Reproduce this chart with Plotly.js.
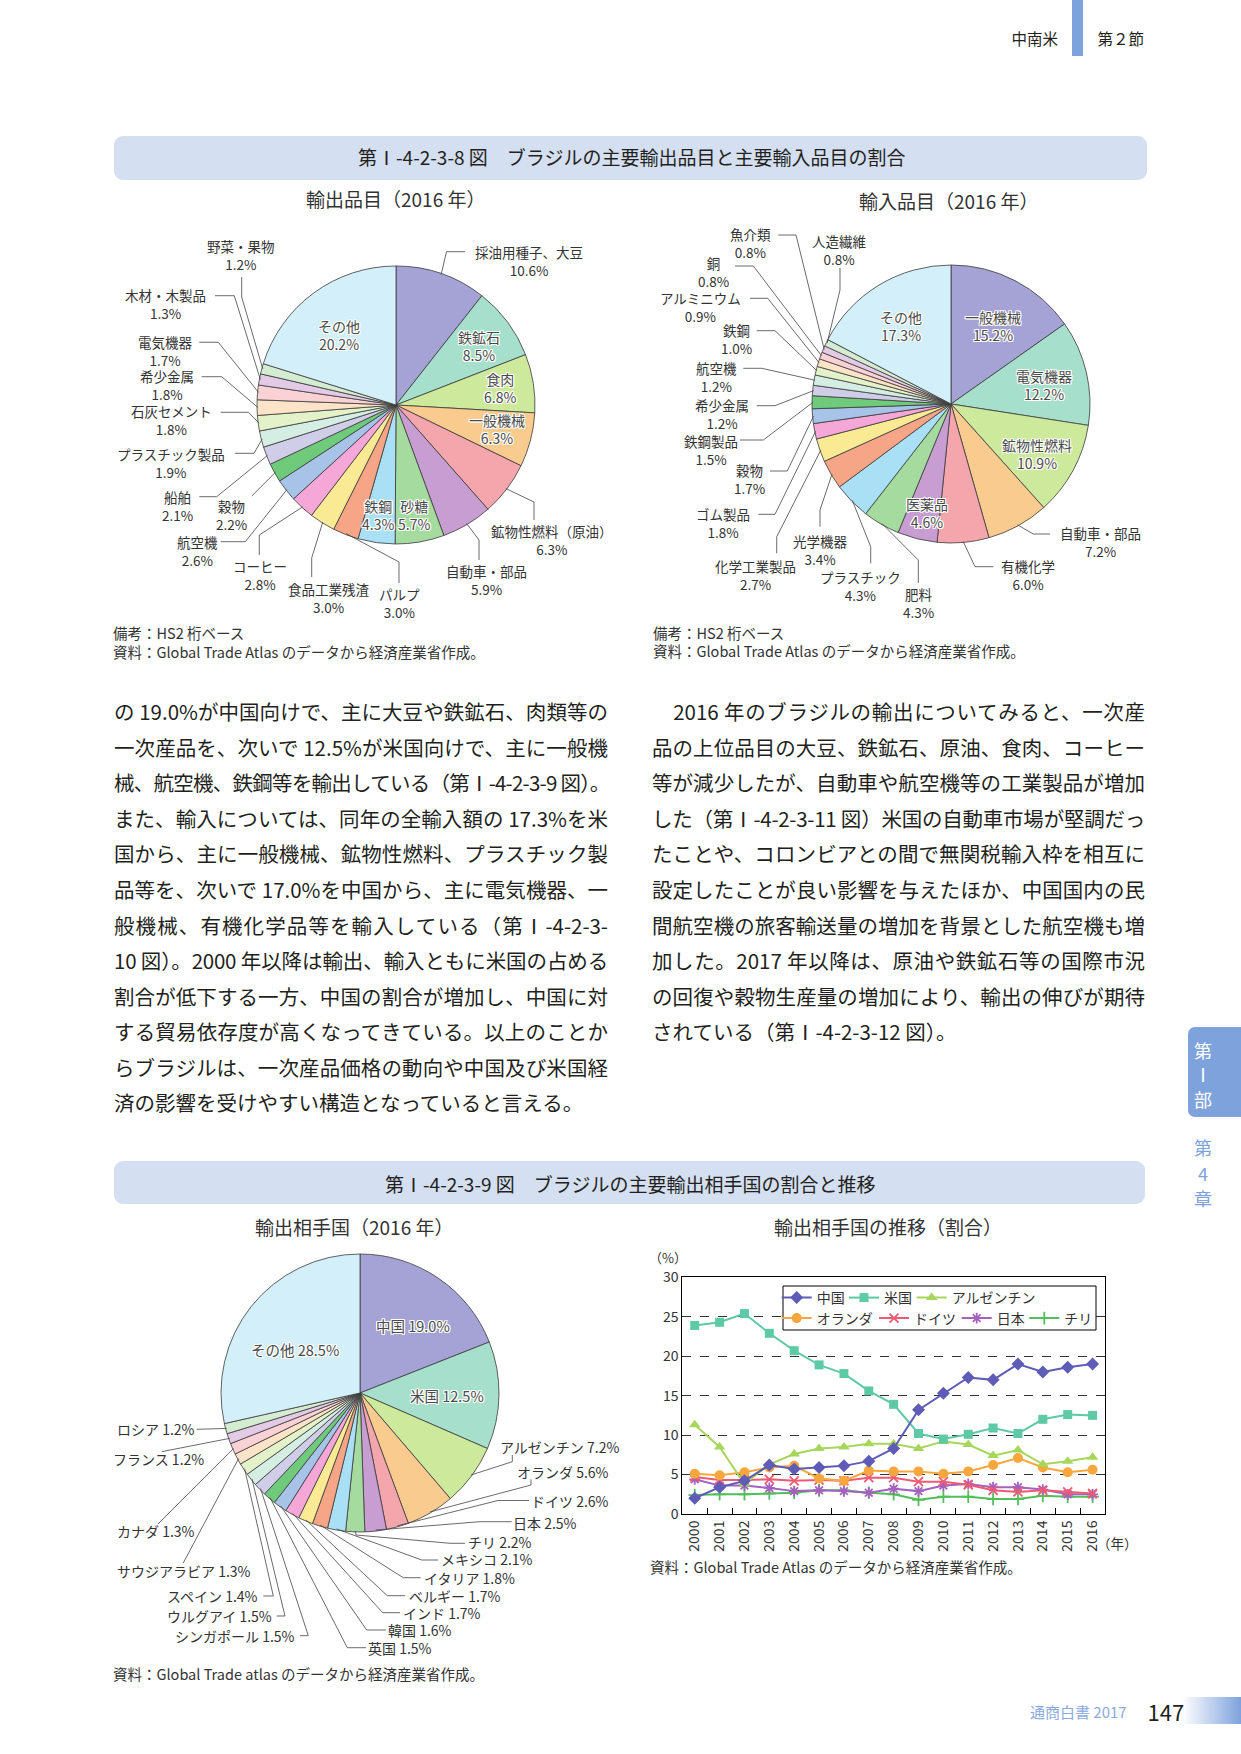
<!DOCTYPE html>
<html>
<head>
<meta charset="utf-8">
<script src="https://cdn.plot.ly/plotly-3.0.1.min.js"></script>
<style>
  body{margin:0;background:#fff;}
  #page{position:relative;width:1241px;height:1754px;overflow:hidden;background:#fff;}
  .deco{position:absolute;}
  #chart{position:absolute;left:0;top:0;width:1241px;height:1754px;z-index:2;}
  #textlayer{position:absolute;left:0;top:0;width:1241px;height:1754px;z-index:3;pointer-events:none;}
  .ln{position:absolute;font-family:"Noto Sans CJK JP","Noto Sans",sans-serif;font-size:20.5px;line-height:35.5px;height:35.5px;color:#231f20;text-align:justify;text-align-last:justify;white-space:nowrap;}
  .ln.last{text-align:left;text-align-last:left;}
  .tx{position:absolute;font-family:"Noto Sans CJK JP","Noto Sans",sans-serif;white-space:nowrap;}
</style>
</head>
<body>
<div id="page">
  <!-- decorative page furniture -->
  <div class="deco" style="left:114px;top:136px;width:1033px;height:44px;background:#d5dff2;border-radius:9px;z-index:1"></div>
  <div class="deco" style="left:114px;top:1161px;width:1031px;height:43px;background:#d5dff2;border-radius:9px;z-index:1"></div>
  <div class="deco" style="left:1072px;top:0;width:11px;height:56px;background:#7ea2dc;z-index:1"></div>
  <div class="deco" style="left:1188px;top:1027px;width:53px;height:90px;background:#7ea2dc;border-radius:7px 0 0 7px;z-index:1"></div>
  <div class="deco" style="left:1182px;top:1697px;width:59px;height:27px;background:linear-gradient(to right,#ffffff,#7ea2dc);z-index:1"></div>
  <div id="chart"></div>
  <div id="textlayer"></div>
</div>
<script>
// ================= DATA =================
const exportItems = ['採油用種子、大豆','鉄鉱石','食肉','一般機械','鉱物性燃料（原油）','自動車・部品','砂糖','鉄鋼','パルプ','食品工業残渣','コーヒー','航空機','穀物','船舶','プラスチック製品','石灰セメント','希少金属','電気機器','木材・木製品','野菜・果物','その他'];
const exportShares = [10.6,8.5,6.8,6.3,6.3,5.9,5.7,4.3,3.0,3.0,2.8,2.6,2.2,2.1,1.9,1.8,1.8,1.7,1.3,1.2,20.2];

const importItems = ['一般機械','電気機器','鉱物性燃料','自動車・部品','有機化学','医薬品','肥料','プラスチック','光学機器','化学工業製品','ゴム製品','穀物','鉄鋼製品','希少金属','航空機','鉄鋼','アルミニウム','銅','魚介類','人造繊維','その他'];
const importShares = [15.2,12.2,10.9,7.2,6.0,4.6,4.3,4.3,3.4,2.7,1.8,1.7,1.5,1.2,1.2,1.0,0.9,0.8,0.8,0.8,17.3];

const partnerNames = ['中国','米国','アルゼンチン','オランダ','ドイツ','日本','チリ','メキシコ','イタリア','ベルギー','インド','韓国','英国','シンガポール','ウルグアイ','スペイン','サウジアラビア','カナダ','フランス','ロシア','その他'];
const partnerShares = [19.0,12.5,7.2,5.6,2.6,2.5,2.2,2.1,1.8,1.7,1.7,1.6,1.5,1.5,1.5,1.4,1.3,1.3,1.2,1.2,28.5];

const years = ['2000','2001','2002','2003','2004','2005','2006','2007','2008','2009','2010','2011','2012','2013','2014','2015','2016'];
const china       = [2.0,3.4,4.2,6.2,5.7,5.9,6.1,6.7,8.3,13.2,15.3,17.3,17.0,19.0,18.0,18.6,19.0];
const usa         = [23.9,24.3,25.4,22.9,20.7,18.9,17.8,15.6,13.9,10.2,9.5,10.1,10.9,10.2,12.0,12.6,12.5];
const argentina   = [11.3,8.5,3.8,6.3,7.6,8.3,8.5,8.9,8.9,8.3,9.2,8.8,7.4,8.1,6.3,6.7,7.2];
const netherlands = [5.1,4.9,5.3,5.9,6.1,4.5,4.2,5.5,5.4,5.4,5.1,5.4,6.2,7.1,5.9,5.3,5.6];
const germany     = [4.7,4.3,4.3,4.4,4.2,4.3,4.2,4.6,4.6,4.1,4.1,3.7,3.0,2.8,3.0,2.8,2.6];
const japan       = [4.4,3.6,3.6,3.3,2.9,3.0,2.9,2.7,3.2,2.9,3.6,3.8,3.4,3.4,3.1,2.5,2.5];
const chile       = [2.4,2.5,2.5,2.6,2.7,3.0,3.0,2.7,2.5,1.8,2.2,2.2,1.9,1.9,2.3,2.2,2.2];

const leftParagraph = [
  'の 19.0%が中国向けで、主に大豆や鉄鉱石、肉類等の',
  '一次産品を、次いで 12.5%が米国向けで、主に一般機',
  '械、航空機、鉄鋼等を輸出している（第Ⅰ-4-2-3-9 図）。',
  'また、輸入については、同年の全輸入額の 17.3%を米',
  '国から、主に一般機械、鉱物性燃料、プラスチック製',
  '品等を、次いで 17.0%を中国から、主に電気機器、一',
  '般機械、有機化学品等を輸入している（第Ⅰ-4-2-3-',
  '10 図）。2000 年以降は輸出、輸入ともに米国の占める',
  '割合が低下する一方、中国の割合が増加し、中国に対',
  'する貿易依存度が高くなってきている。以上のことか',
  'らブラジルは、一次産品価格の動向や中国及び米国経',
  '済の影響を受けやすい構造となっていると言える。'
];
const rightParagraph = [
  '　2016 年のブラジルの輸出についてみると、一次産',
  '品の上位品目の大豆、鉄鉱石、原油、食肉、コーヒー',
  '等が減少したが、自動車や航空機等の工業製品が増加',
  'した（第Ⅰ-4-2-3-11 図）米国の自動車市場が堅調だっ',
  'たことや、コロンビアとの間で無関税輸入枠を相互に',
  '設定したことが良い影響を与えたほか、中国国内の民',
  '間航空機の旅客輸送量の増加を背景とした航空機も増',
  '加した。2017 年以降は、原油や鉄鉱石等の国際市況',
  'の回復や穀物生産量の増加により、輸出の伸びが期待',
  'されている（第Ⅰ-4-2-3-12 図）。'
];

// ================= STYLE / LAYOUT CONFIG =================
const W = 1241, H = 1754;
const FONT = '"Noto Sans CJK JP", "Noto Sans", sans-serif';
const px = x => x / W;
const py = y => 1 - y / H;
const PALETTE = ['#a5a2d5','#a6dfcb','#cde99c','#f9cb8f','#f4a6ac','#c89dd2','#a6dba0','#a9e0f5','#f6a686','#fbea94',
                 '#f5a7d8','#a8c3e8','#70ca7b','#d0cde9','#d5eee4','#e3f2c8','#fde3c7','#fad2d6','#e3cbe6','#d4ecd1','#d3effa'];
const HALO = '-1px -1px 0 #fff, 1px -1px 0 #fff, -1px 1px 0 #fff, 1px 1px 0 #fff, 0 1px 0 #fff, 0 -1px 0 #fff, 1px 0 0 #fff, -1px 0 0 #fff';
const LABEL2 = 13.5;   // two-line pie labels
const LABEL1 = 14;     // one-line pie labels
const TITLE = 19;
const SUB = 19;
const NOTE = 14.5;

const pieGeom = {
  exp: {cx:396, cy:405, r:139},
  imp: {cx:951, cy:404, r:139},
  par: {cx:360, cy:1393, r:139}
};

// label placement: in = inside label centre; c = outside label centre; l/r = text edge; path = leader elbows
const exportLabelPos = [
  {c:[529,260.5], path:[[446.5,251.7],[465,251.7]]},
  {in:[479,345.5]},
  {in:[500,388]},
  {in:[497,428.5]},
  {c:[551.7,540.5], path:[[534,502],[534,520]]},
  {c:[486.7,580], path:[[479,540],[479,560]]},
  {in:[414,515]},
  {in:[378,515]},
  {c:[399,603.3], path:[[399,562],[399,583]]},
  {c:[329,597.5], path:[[311.7,558],[311.7,577]]},
  {c:[260,575.3], path:[[259.3,535],[259.3,555]]},
  {c:[197.3,550.8], path:[[245.3,541.7],[220.7,541.7]]},
  {c:[231,514.7], path:[[251.7,496]]},
  {c:[177.7,505.8], path:[[216.7,496.7],[199.3,496.7]]},
  {c:[170.7,462.5], path:[[254,453.3],[235,453.3]]},
  {c:[171.7,420.5], path:[[248.3,412.3],[220.7,412.3]]},
  {c:[166.7,385.3], path:[[221.7,376.7],[201.7,376.7]]},
  {c:[165,350.5], path:[[218.3,342.3],[199.3,342.3]]},
  {c:[165.7,303.8], path:[[234.3,295.7],[215,295.7]]},
  {c:[240.7,254.7], path:[[241.7,297],[241.7,277]]},
  {in:[339,335]}
];
const importLabelPos = [
  {in:[993.3,325.5]},
  {in:[1044,384.5]},
  {in:[1037.3,454.5]},
  {c:[1100,542], path:[[1033.3,534],[1050,534]]},
  {c:[1027.7,574.5], path:[[975,566.7],[993.3,566.7]]},
  {in:[926.7,513.3]},
  {c:[918.3,603], path:[[918.3,560],[918.3,583]]},
  {c:[860,586], path:[[870.7,546.7],[870.7,563.3]]},
  {c:[820,550.5], path:[[820,510],[820,526.7]]},
  {c:[755,574.5], path:[[776.7,536.7],[776.7,553.3]]},
  {c:[722.7,523.3], path:[[775,514.3],[758.3,514.3]]},
  {c:[749.3,479.2], path:[[787.3,471],[770,471]]},
  {c:[710.7,449.7], path:[[763.3,440],[740,440]]},
  {c:[721.7,414.2], path:[[775,405.7],[756.7,405.7]]},
  {c:[716,377], path:[[761.7,368.3],[743.3,368.3]]},
  {c:[736.7,339.2], path:[[775,330.7],[756.7,330.7]]},
  {c:[700,306.7], path:[[767.7,298.3],[750,298.3]]},
  {c:[713.3,272], path:[[753.3,266],[735,266]]},
  {c:[750,243.3], path:[[796,235],[778.3,235]]},
  {c:[839.3,250], path:[[840,290],[840,268]]},
  {in:[901,325.5]}
];
const partnerLabelPos = [
  {in:[412.7,1325]},
  {in:[446.7,1395.7]},
  {l:[499,1446.7], path:[[512.3,1461.7],[512.3,1455]]},
  {l:[515.7,1471.7], path:[[531,1485],[531,1479.3]]},
  {l:[530,1500.7], path:[[498,1500.5],[529,1500.5]]},
  {l:[512.3,1522.7], path:[[480,1521.7],[511.7,1521.7]]},
  {l:[466.7,1542.3], path:[[356,1535],[450,1543.3],[465,1543.3]]},
  {l:[440,1559.3], path:[[421.7,1560],[438.3,1560]]},
  {l:[423.3,1577.7], path:[[403.3,1577.7],[420.7,1577.7]]},
  {l:[408.3,1595.7], path:[[387.3,1595.7],[405,1595.7]]},
  {l:[401.7,1613.3], path:[[382.7,1612.7],[400,1612.7]]},
  {l:[387.3,1630], path:[[366.7,1630],[386,1630]]},
  {l:[366.7,1647.7], path:[[347.3,1647.7],[366,1647.7]]},
  {r:[296,1635.7], path:[[308.3,1635.7],[300,1635.7]]},
  {r:[273.3,1616], path:[[285,1616],[276.7,1616]]},
  {r:[259.3,1596], path:[[273.3,1596],[263.3,1596]]},
  {l:[115.7,1571], path:[[183.3,1563]]},
  {l:[115.7,1531], path:[[158,1524]]},
  {l:[112.3,1459.3], path:[[161.7,1451.7]]},
  {l:[115.7,1429.3], path:[[196.7,1429.3]]},
  {in:[295,1349]}
];

// ================= HELPERS =================
const pct = v => v.toFixed(1) + '%';
function ann(x, y, text, o) {
  o = o || {};
  return {
    xref:'paper', yref:'paper', x:px(x), y:py(y), text:text, showarrow:false,
    xanchor:o.xanchor || 'center', yanchor:o.yanchor || 'middle', align:o.align || 'center',
    borderpad:0,
    font:{family:FONT, size:o.size || 14, color:o.color || '#333', shadow:o.shadow || 'none'}
  };
}
function edgePoint(vals, i, g) {
  const tot = vals.reduce((a,b)=>a+b,0);
  let cum = 0; for (let k=0;k<i;k++) cum += vals[k];
  const th = 2*Math.PI*(cum + vals[i]/2)/tot;
  return [g.cx + (g.r-1)*Math.sin(th), g.cy - (g.r-1)*Math.cos(th)];
}
function leader(points) {
  let d = '';
  points.forEach((p,k) => { d += (k ? ' L ' : 'M ') + px(p[0]).toFixed(5) + ',' + py(p[1]).toFixed(5); });
  return {type:'path', xref:'paper', yref:'paper', path:d, line:{color:'#444', width:0.8}, layer:'above'};
}
function pieTrace(labels, values, g) {
  return {
    type:'pie', labels:labels, values:values, sort:false, direction:'clockwise', rotation:0,
    textinfo:'none', hoverinfo:'skip', showlegend:false,
    marker:{colors:PALETTE, line:{color:'#3a3a3a', width:0.8}},
    domain:{x:[px(g.cx-g.r), px(g.cx+g.r)], y:[py(g.cy+g.r), py(g.cy-g.r)]}
  };
}

const annotations = [];
const shapes = [];

function pieLabels(names, vals, pos, g, twoLine) {
  const size = twoLine ? LABEL2 : LABEL1;
  pos.forEach((p, i) => {
    const sep = twoLine ? '<br>' : ' ';
    const txt = names[i] + sep + pct(vals[i]);
    if (p.in) {
      annotations.push(ann(p.in[0], p.in[1], txt, {color:'#4a4a4a', shadow:HALO, size:twoLine ? 14 : 14.5}));
      return;
    }
    const start = edgePoint(vals, i, g);
    shapes.push(leader([start].concat(p.path)));
    if (p.c) annotations.push(ann(p.c[0], p.c[1], txt, {size:size}));
    if (p.l) annotations.push(ann(p.l[0], p.l[1], txt, {xanchor:'left', align:'left', size:size}));
    if (p.r) annotations.push(ann(p.r[0], p.r[1], txt, {xanchor:'right', align:'right', size:size}));
  });
}
pieLabels(exportItems, exportShares, exportLabelPos, pieGeom.exp, true);
pieLabels(importItems, importShares, importLabelPos, pieGeom.imp, true);
pieLabels(partnerNames, partnerShares, partnerLabelPos, pieGeom.par, false);

// titles, subtitles and notes
annotations.push(ann(631, 156, '第Ⅰ-4-2-3-8 図　ブラジルの主要輸出品目と主要輸入品目の割合', {size:TITLE, color:'#231f20'}));
annotations.push(ann(395, 199, '輸出品目（2016 年）', {size:SUB}));
annotations.push(ann(949, 200, '輸入品目（2016 年）', {size:SUB}));
annotations.push(ann(112, 632, '備考：HS2 桁ベース', {xanchor:'left', size:NOTE}));
annotations.push(ann(112, 651, '資料：Global Trade Atlas のデータから経済産業省作成。', {xanchor:'left', size:NOTE}));
annotations.push(ann(652, 632, '備考：HS2 桁ベース', {xanchor:'left', size:NOTE}));
annotations.push(ann(652, 650, '資料：Global Trade Atlas のデータから経済産業省作成。', {xanchor:'left', size:NOTE}));
annotations.push(ann(630, 1183, '第Ⅰ-4-2-3-9 図　ブラジルの主要輸出相手国の割合と推移', {size:TITLE, color:'#231f20'}));
annotations.push(ann(354, 1226, '輸出相手国（2016 年）', {size:SUB}));
annotations.push(ann(888, 1226, '輸出相手国の推移（割合）', {size:SUB}));
annotations.push(ann(112, 1673, '資料：Global Trade atlas のデータから経済産業省作成。', {xanchor:'left', size:NOTE}));
annotations.push(ann(649, 1566, '資料：Global Trade Atlas のデータから経済産業省作成。', {xanchor:'left', size:NOTE}));
annotations.push(ann(668, 1257, '（%）', {size:13}));
annotations.push(ann(1117, 1543, '（年）', {size:13.5}));

// line chart legend box
shapes.push({type:'rect', xref:'paper', yref:'paper', x0:px(783), x1:px(1096), y0:py(1330), y1:py(1286),
  line:{color:'#000', width:1}, fillcolor:'#fff', layer:'above'});

// ================= LINE CHART =================
const seriesDefs = [
  {name:'中国', y:china, color:'#5e5cb6', symbol:'diamond', size:10, legend:'legend', lx:816.7, ly:1298},
  {name:'米国', y:usa, color:'#5ec9a5', symbol:'square', size:9, legend:'legend2', lx:884, ly:1298},
  {name:'アルゼンチン', y:argentina, color:'#a6d65b', symbol:'triangle-up', size:10, legend:'legend3', lx:951.7, ly:1298},
  {name:'オランダ', y:netherlands, color:'#f8a73e', symbol:'circle', size:10, legend:'legend4', lx:816.7, ly:1318.5},
  {name:'ドイツ', y:germany, color:'#ee5a74', symbol:'x-thin-open', size:9, legend:'legend5', lx:914, ly:1318.5},
  {name:'日本', y:japan, color:'#a262be', symbol:'asterisk-open', size:9, legend:'legend6', lx:996.7, ly:1318.5},
  {name:'チリ', y:chile, color:'#52be5a', symbol:'cross-thin-open', size:9, legend:'legend7', lx:1064.3, ly:1318.5}
];
const lineTraces = seriesDefs.slice().reverse().map(s => ({
  type:'scatter', mode:'lines+markers', name:s.name, x:years, y:s.y, xaxis:'x', yaxis:'y',
  legend:s.legend, hoverinfo:'skip', cliponaxis:false,
  line:{color:s.color, width:2},
  marker:{symbol:s.symbol, size:s.size, color:s.color, line:{color:s.color, width:s.symbol.indexOf('open')>=0 ? 1.8 : 0}}
}));

const layout = {
  width:W, height:H, margin:{l:0,r:0,t:0,b:0}, autosize:false,
  paper_bgcolor:'rgba(0,0,0,0)', plot_bgcolor:'rgba(0,0,0,0)',
  font:{family:FONT, color:'#333'},
  showlegend:true,
  xaxis:{domain:[px(682.3), px(1105)], type:'category', range:[-0.5,16.5], tickson:'boundaries',
         ticks:'inside', ticklen:6, tickcolor:'#000', tickwidth:1, showline:true, mirror:true, linecolor:'#000', linewidth:1,
         tickangle:-90, tickfont:{family:FONT, size:14, color:'#333'}, showgrid:false, zeroline:false, anchor:'y', fixedrange:true},
  yaxis:{domain:[py(1514), py(1277.3)], range:[0,30], tick0:0, dtick:5, showline:true, mirror:true, linecolor:'#000', linewidth:1,
         showgrid:true, gridcolor:'#000', griddash:'dash', gridwidth:0.8, zeroline:false, ticks:'',
         tickfont:{family:FONT, size:14, color:'#333'}, anchor:'x', fixedrange:true},
  annotations:annotations,
  shapes:shapes
};
seriesDefs.forEach(s => {
  layout[s.legend] = {x:px(s.lx - 40), y:py(s.ly), xanchor:'left', yanchor:'middle', orientation:'h',
    bgcolor:'rgba(0,0,0,0)', borderwidth:0, font:{family:FONT, size:14, color:'#333'}, itemwidth:30};
});

const data = [
  pieTrace(exportItems, exportShares, pieGeom.exp),
  pieTrace(importItems, importShares, pieGeom.imp),
  pieTrace(partnerNames, partnerShares, pieGeom.par)
].concat(lineTraces);

Plotly.newPlot('chart', data, layout, {staticPlot:true, displayModeBar:false});

// ================= PAGE TEXT (body paragraphs & page furniture) =================
const tl = document.getElementById('textlayer');
function addLines(lines, left, width, top0, step) {
  lines.forEach((t, i) => {
    const d = document.createElement('div');
    d.className = 'ln' + (i === lines.length - 1 ? ' last' : '');
    d.style.left = left + 'px';
    d.style.width = width + 'px';
    d.style.top = (top0 + i*step - 35.5/2) + 'px';
    d.textContent = t;
    tl.appendChild(d);
    let ls = 0;
    while (d.scrollWidth > width + 1 && ls > -6) { ls -= 0.25; d.style.letterSpacing = ls + 'px'; }
  });
}
addLines(leftParagraph, 114, 494, 712, 35.55);
addLines(rightParagraph, 652, 493, 712, 35.55);

function addText(x, y, text, size, color, anchor) {
  const d = document.createElement('div');
  d.className = 'tx';
  d.textContent = text;
  d.style.fontSize = size + 'px';
  d.style.color = color;
  d.style.lineHeight = '1';
  tl.appendChild(d);
  const w = d.offsetWidth, h = d.offsetHeight;
  d.style.left = (anchor === 'center' ? x - w/2 : anchor === 'right' ? x - w : x) + 'px';
  d.style.top = (y - h/2) + 'px';
}
addText(1035, 39, '中南米', 15.5, '#231f20', 'center');
addText(1121, 39, '第２節', 15.5, '#231f20', 'center');
addText(1203, 1050, '第', 18, '#ffffff', 'center');
addText(1203, 1074, 'Ⅰ', 18, '#ffffff', 'center');
addText(1203, 1099, '部', 18, '#ffffff', 'center');
addText(1203, 1147, '第', 18, '#7ea2dc', 'center');
addText(1203, 1173, '4', 18, '#7ea2dc', 'center');
addText(1203, 1198, '章', 18, '#7ea2dc', 'center');
addText(1127, 1711, '通商白書 2017', 15, '#8aaadf', 'right');
addText(1166, 1711, '147', 22, '#231f20', 'center');
</script>
</body>
</html>
